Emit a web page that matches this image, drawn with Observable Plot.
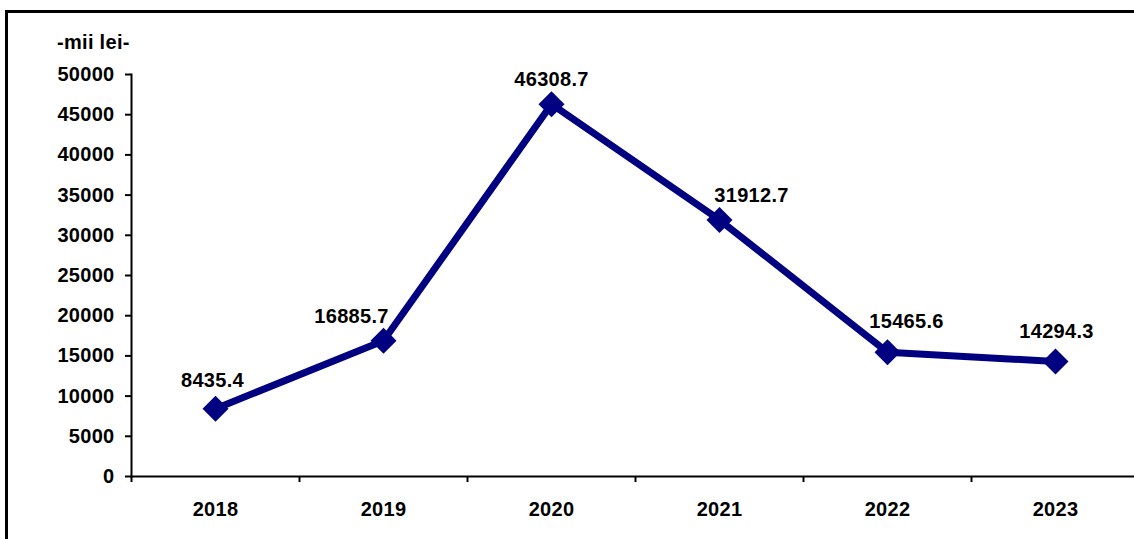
<!DOCTYPE html>
<html><head><meta charset="utf-8">
<script src="https://cdn.jsdelivr.net/npm/d3@7"></script>
<script src="https://cdn.jsdelivr.net/npm/@observablehq/plot@0.6"></script>
<style>
html,body{margin:0;padding:0;background:#fff;overflow:hidden;}
#wrap{position:relative;width:1134px;height:539px;overflow:hidden;font-family:"Liberation Sans",Arial,sans-serif;background:#fff;}
#chart{position:absolute;left:0;top:0;}
#frameTop{position:absolute;left:5px;top:10px;width:1129px;height:3px;background:#000;z-index:2;}
#frameLeft{position:absolute;left:5px;top:10px;width:3px;height:529px;background:#000;z-index:2;}
#unit{position:absolute;left:57px;top:31px;font-weight:bold;font-size:20px;letter-spacing:0.3px;z-index:3;}
</style></head><body>
<div id="wrap"><div id="chart"></div><div id="frameTop"></div><div id="frameLeft"></div><div id="unit">-mii lei-</div></div>
<script>
const years = [2018, 2019, 2020, 2021, 2022, 2023];
const values = [8435.4, 16885.7, 46308.7, 31912.7, 15465.6, 14294.3];
const valueLabels = ["8435.4", "16885.7", "46308.7", "31912.7", "15465.6", "14294.3"];
const yTicks = [0, 5000, 10000, 15000, 20000, 25000, 30000, 35000, 40000, 45000, 50000];
const labelNudge = [-3, -32, 0, 32, 19, 1];
const labelLift = [-28, -24, -25, -24, -31, -30];

const data = years.map((year, i) => ({year, value: values[i], label: valueLabels[i], nudge: labelNudge[i], lift: labelLift[i]}));
const boundaries = [years[0] - 0.5, ...years.map(y => y + 0.5)];
const navy = "#000080";

const plot = Plot.plot({
  width: 1134,
  height: 539,
  marginLeft: 131,
  marginRight: 0,
  marginTop: 74,
  marginBottom: 63,
  style: {fontFamily: '"Liberation Sans", Arial, sans-serif', fontSize: "20px", fontWeight: "bold", letterSpacing: "0.3px", background: "transparent", color: "#000"},
  x: {type: "linear", domain: [boundaries[0], boundaries[boundaries.length - 1]], range: [131, 1139]},
  y: {domain: [0, 50000], range: [476, 74]},
  marks: [
    Plot.axisY({ticks: yTicks, tickSize: 6, tickPadding: 11, tickFormat: d3.format("d"), strokeWidth: 2, label: null}),
    Plot.axisX({ticks: boundaries, tickSize: 6, tickFormat: () => "", strokeWidth: 2, label: null}),
    Plot.axisX({ticks: years, tickSize: 0, tickPadding: 25, tickFormat: d => String(d), label: null}),
    Plot.frame({anchor: "left", strokeWidth: 2}),
    Plot.frame({anchor: "bottom", strokeWidth: 2}),
    Plot.line(data, {x: "year", y: "value", stroke: navy, strokeWidth: 7}),
    Plot.dot(data, {x: "year", y: "value", symbol: "diamond2", r: 11.7, fill: navy, stroke: null}),
    ...data.map(d => Plot.text([d], {x: "year", y: "value", text: "label", dx: d.nudge, dy: d.lift, fontSize: 20, fontWeight: "bold", fill: "#000"}))
  ]
});
document.getElementById("chart").appendChild(plot);
</script>
</body></html>
